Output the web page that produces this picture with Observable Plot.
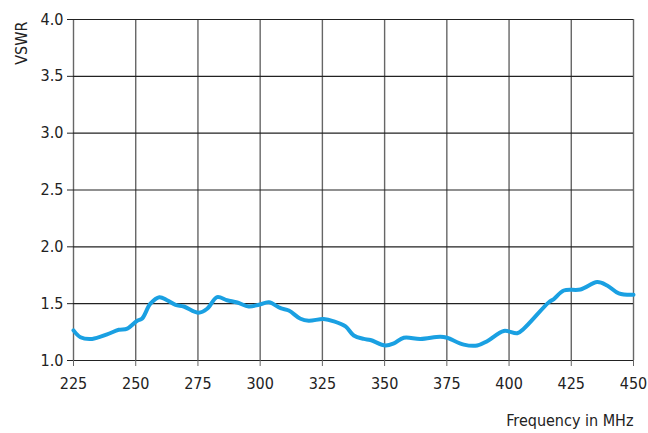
<!DOCTYPE html>
<html>
<head>
<meta charset="utf-8">
<script src="https://cdn.jsdelivr.net/npm/d3@7"></script>
<script src="https://cdn.jsdelivr.net/npm/@observablehq/plot@0.6"></script>
<style>
  html, body { margin: 0; padding: 0; background: #fff; }
  svg { display: block; }
</style>
</head>
<body>
<div id="chart"></div>
<script>
const freq = [225, 227.8, 232.5, 238.5, 243.2, 246.6, 250.6, 252.6, 255.9, 259.5, 262.6, 266, 269.3, 275.3, 278.7, 282.7, 286.7, 290.8, 295.4, 299.5, 303.5, 308.2, 311.5, 316.2, 319.5, 325.5, 329.6, 334.3, 337.6, 341.6, 344.3, 350.3, 353.7, 357.7, 364.4, 372.4, 375.1, 381.8, 387.2, 391.2, 397.9, 403.3, 405.9, 416.0, 418, 422, 428.7, 435.4, 439.4, 444.1, 450];
const vswr = [1.265, 1.205, 1.19, 1.23, 1.27, 1.28, 1.35, 1.37, 1.50, 1.557, 1.53, 1.49, 1.475, 1.42, 1.455, 1.557, 1.53, 1.51, 1.475, 1.49, 1.513, 1.46, 1.44, 1.367, 1.35, 1.365, 1.345, 1.30, 1.22, 1.19, 1.18, 1.132, 1.15, 1.20, 1.19, 1.21, 1.20, 1.14, 1.132, 1.17, 1.26, 1.24, 1.28, 1.513, 1.54, 1.616, 1.625, 1.69, 1.66, 1.59, 1.578];
const xTicks = [225, 250, 275, 300, 325, 350, 375, 400, 425, 450];
const yTicks = [1.0, 1.5, 2.0, 2.5, 3.0, 3.5, 4.0];
const xLabel = "Frequency in MHz";
const yLabel = "VSWR";

const data = freq.map((f, i) => ({f, v: vswr[i]}));
const font = "'DejaVu Sans Condensed', 'DejaVu Sans', sans-serif";

const chart = Plot.plot({
  width: 648,
  height: 433,
  marginLeft: 73,
  marginRight: 15,
  marginTop: 19,
  marginBottom: 73,
  style: {fontFamily: font, fontSize: "16px", color: "#222", background: "#fff"},
  x: {domain: [225, 450], ticks: xTicks},
  y: {domain: [1, 4], ticks: yTicks},
  marks: [
    Plot.ruleX(xTicks, {stroke: "#666", strokeWidth: 1.4, strokeOpacity: 1}),
    Plot.ruleY(yTicks, {stroke: "#222", strokeWidth: 1.2, strokeOpacity: 1}),
    Plot.axisX({ticks: xTicks, tickSize: 6, tickPadding: 11, tickFormat: d => d, label: null, stroke: "#666", fontSize: 16}),
    Plot.axisY({ticks: yTicks, tickSize: 6, tickPadding: 4, tickFormat: d3.format(".1f"), label: null, stroke: "#222", fontSize: 16}),
    Plot.line(data, {x: "f", y: "v", stroke: "#1aa0e2", strokeWidth: 4, curve: "catmull-rom"}),
    Plot.text([xLabel], {frameAnchor: "bottom-right", dy: 65, textAnchor: "end", fontSize: 16, fill: "#222"}),
    Plot.text([yLabel], {frameAnchor: "top-left", dx: -58, dy: 2, rotate: -90, textAnchor: "end", fontSize: 16, fill: "#222"})
  ]
});
document.getElementById("chart").appendChild(chart);
</script>
</body>
</html>
